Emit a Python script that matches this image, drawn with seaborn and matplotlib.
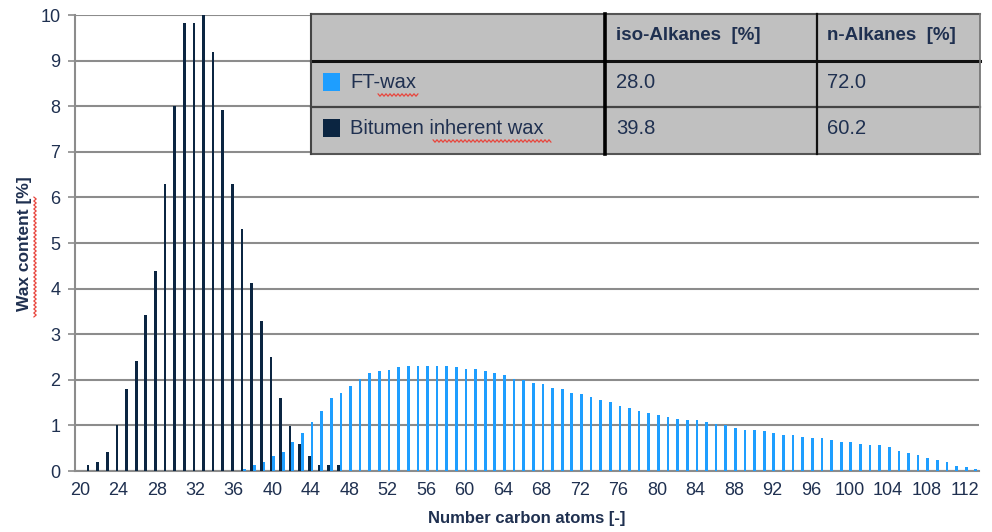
import numpy as np
import pandas as pd
import matplotlib
matplotlib.use("Agg")
import matplotlib.pyplot as plt
from matplotlib.patches import Rectangle
from matplotlib.lines import Line2D
import seaborn as sns

# ---- data -------------------------------------------------------------
carbon_numbers = list(range(20, 114))

bitumen_wax = [
    0.00, 0.13, 0.20, 0.41, 1.01, 1.79, 2.42, 3.42, 4.39, 6.30,   # 20-29
    8.00, 9.82, 9.82, 10.0, 9.18, 7.92, 6.30, 5.31, 4.12, 3.29,   # 30-39
    2.50, 1.59, 0.99, 0.60, 0.32, 0.13, 0.13, 0.13, 0.00, 0.00,   # 40-49
    0.00, 0.00, 0.00, 0.00, 0.00, 0.00, 0.00, 0.00, 0.00, 0.00,   # 50-59
    0.00, 0.00, 0.00, 0.00, 0.00, 0.00, 0.00, 0.00, 0.00, 0.00,   # 60-69
    0.00, 0.00, 0.00, 0.00, 0.00, 0.00, 0.00, 0.00, 0.00, 0.00,   # 70-79
    0.00, 0.00, 0.00, 0.00, 0.00, 0.00, 0.00, 0.00, 0.00, 0.00,   # 80-89
    0.00, 0.00, 0.00, 0.00, 0.00, 0.00, 0.00, 0.00, 0.00, 0.00,   # 90-99
    0.00, 0.00, 0.00, 0.00, 0.00, 0.00, 0.00, 0.00, 0.00, 0.00,   # 100-109
    0.00, 0.00, 0.00, 0.00,                                       # 110-113
]

ft_wax = [
    0.00, 0.00, 0.00, 0.00, 0.00, 0.00, 0.00, 0.00, 0.00, 0.00,   # 20-29
    0.00, 0.00, 0.00, 0.00, 0.00, 0.00, 0.00, 0.04, 0.13, 0.20,   # 30-39
    0.33, 0.41, 0.64, 0.84, 1.08, 1.32, 1.59, 1.72, 1.87, 2.02,   # 40-49
    2.14, 2.19, 2.22, 2.27, 2.31, 2.31, 2.31, 2.31, 2.31, 2.27,   # 50-59
    2.23, 2.23, 2.19, 2.14, 2.10, 2.02, 1.99, 1.94, 1.91, 1.83,   # 60-69
    1.79, 1.72, 1.68, 1.63, 1.55, 1.51, 1.43, 1.39, 1.31, 1.28,   # 70-79
    1.23, 1.19, 1.15, 1.11, 1.11, 1.08, 1.02, 1.00, 0.95, 0.91,   # 80-89
    0.91, 0.88, 0.84, 0.80, 0.80, 0.75, 0.72, 0.72, 0.68, 0.64,   # 90-99
    0.64, 0.60, 0.56, 0.56, 0.52, 0.44, 0.40, 0.36, 0.29, 0.24,   # 100-109
    0.20, 0.12, 0.09, 0.05,                                       # 110-113
]

series_names = ["Bitumen inherent wax", "FT-wax"]
series_colors = ["#0B2541", "#1E9EFF"]

table_header = ["", "iso-Alkanes  [%]", "n-Alkanes  [%]"]
table_rows = ["FT-wax", "Bitumen inherent wax"]
iso_alkanes = ["28.0", "39.8"]
n_alkanes = ["72.0", "60.2"]
row_colors = ["#1E9EFF", "#0B2541"]

x_tick_labels = [str(c) for c in carbon_numbers[::4]]

# ---- frame ------------------------------------------------------------
df = pd.DataFrame({
    "carbon": carbon_numbers * 2,
    "wax": bitumen_wax + ft_wax,
    "series": [series_names[0]] * len(carbon_numbers) + [series_names[1]] * len(carbon_numbers),
})

sns.set_style("white")
plt.rcParams["font.family"] = ["Liberation Sans", "DejaVu Sans"]

W, H = 992, 532
TEXT = "#1F3050"
GRID = "#8C8C8C"

fig = plt.figure(figsize=(W / 100, H / 100), dpi=100)
ax = fig.add_axes([75 / W, 1 - 471 / H, (979.3 - 75) / W, (471 - 15) / H])


def fx(px):
    return np.asarray(px) / W


def fy(py):
    return 1 - np.asarray(py) / H


sns.barplot(
    data=df, x="carbon", y="wax", hue="series", hue_order=series_names,
    palette=series_colors, order=carbon_numbers, width=0.56, dodge=True,
    saturation=1, legend=False, ax=ax, zorder=3, linewidth=0, edgecolor="none",
)

ax.set_xlim(-0.5, len(carbon_numbers) - 0.5)
ax.set_ylim(0, 10)
ax.set_yticks(range(0, 11))

ax.set_xticks(range(0, len(carbon_numbers), 4))
ax.set_xticklabels(x_tick_labels)
ax.set_xticks(np.arange(-0.5, len(carbon_numbers), 2), minor=True)

ax.tick_params(axis="x", which="major", length=0, pad=8, labelsize=13, labelcolor=TEXT)
ax.tick_params(axis="x", which="minor", length=4.5, width=1.2, color=GRID, direction="out")
ax.tick_params(axis="y", which="major", length=5, width=1.2, color=GRID, pad=5.5,
               labelsize=13, labelcolor=TEXT, left=True)

ax.yaxis.grid(True, color=GRID, linewidth=1.5, zorder=0)
ax.xaxis.grid(False)
ax.set_axisbelow(True)
for side in ["top", "right"]:
    ax.spines[side].set_visible(False)
for side in ["left", "bottom"]:
    ax.spines[side].set_color(GRID)
    ax.spines[side].set_linewidth(1.5)

ax.set_xlabel("")
ax.set_ylabel("")
fig.text(fx(527), fy(519), "Number carbon atoms [-]", ha="center", va="center",
         fontsize=12, fontweight="bold", color=TEXT)
fig.text(fx(25), fy(244), "Wax content [%]", ha="center", va="center", rotation=90,
         fontsize=12.5, fontweight="bold", color=TEXT)


def squiggle(x0, x1, y, vertical=False):
    t = np.arange(x0, x1 + 0.1, 2.0)
    off = np.where(np.arange(len(t)) % 2 == 0, -1.2, 1.2)
    if vertical:
        xs, ys = y + off, t
    else:
        xs, ys = t, y + off
    fig.add_artist(Line2D(fx(xs), fy(ys), color="#E8453C", linewidth=0.9,
                          transform=fig.transFigure, zorder=12))


squiggle(197, 318, 35, vertical=True)

# ---- summary table ----------------------------------------------------
tl, tr = 310.7, 980.0
col_x = [310.7, 605.0, 816.5, 980.0]
row_y = [14.0, 61.0, 107.0, 154.3]

fig.add_artist(Rectangle((fx(tl), fy(row_y[-1])), fx(tr) - fx(tl), fy(row_y[0]) - fy(row_y[-1]),
                         transform=fig.transFigure, facecolor="#C0C0C0", edgecolor="none", zorder=10))


def hline(x0, x1, y, color, lw):
    fig.add_artist(Line2D([fx(x0), fx(x1)], [fy(y), fy(y)], color=color, linewidth=lw,
                          transform=fig.transFigure, zorder=11, solid_capstyle="projecting"))


def vline(x, y0, y1, color, lw):
    fig.add_artist(Line2D([fx(x), fx(x)], [fy(y0), fy(y1)], color=color, linewidth=lw,
                          transform=fig.transFigure, zorder=11, solid_capstyle="projecting"))


hline(tl, tr, row_y[0], "#555555", 1.5)
hline(tl, tr, row_y[1], "#111111", 2.2)
hline(tl, tr, row_y[2], "#444444", 1.6)
hline(tl, tr, row_y[3], "#555555", 1.5)
vline(tl, row_y[0], row_y[3], "#444444", 1.5)
vline(col_x[1], row_y[0], row_y[3], "#000000", 2.6)
vline(col_x[2], row_y[0], row_y[3], "#111111", 1.6)
vline(tr, row_y[0], row_y[3], "#777777", 1.3)

fig.text(fx(616), fy(36), table_header[1], ha="left", va="center", fontsize=13.5,
         fontweight="bold", color=TEXT, zorder=13)
fig.text(fx(827), fy(36), table_header[2], ha="left", va="center", fontsize=13.5,
         fontweight="bold", color=TEXT, zorder=13)

row_centers = [82, 128]
for name, iso, n_val, col, yc in zip(table_rows, iso_alkanes, n_alkanes, row_colors, row_centers):
    fig.add_artist(Rectangle((fx(323), fy(yc + 9)), fx(340) - fx(323), fy(yc - 9) - fy(yc + 9),
                             transform=fig.transFigure, facecolor=col, edgecolor="none", zorder=12))
    fig.text(fx(350), fy(yc), name, ha="left", va="center", fontsize=14.5, color=TEXT, zorder=13)
    fig.text(fx(616), fy(yc), iso, ha="left", va="center", fontsize=14.5, color=TEXT, zorder=13)
    fig.text(fx(827), fy(yc), n_val, ha="left", va="center", fontsize=14.5, color=TEXT, zorder=13)

squiggle(378, 418, 95)
squiggle(433, 551, 141)

fig.savefig("out.png", dpi=100)
